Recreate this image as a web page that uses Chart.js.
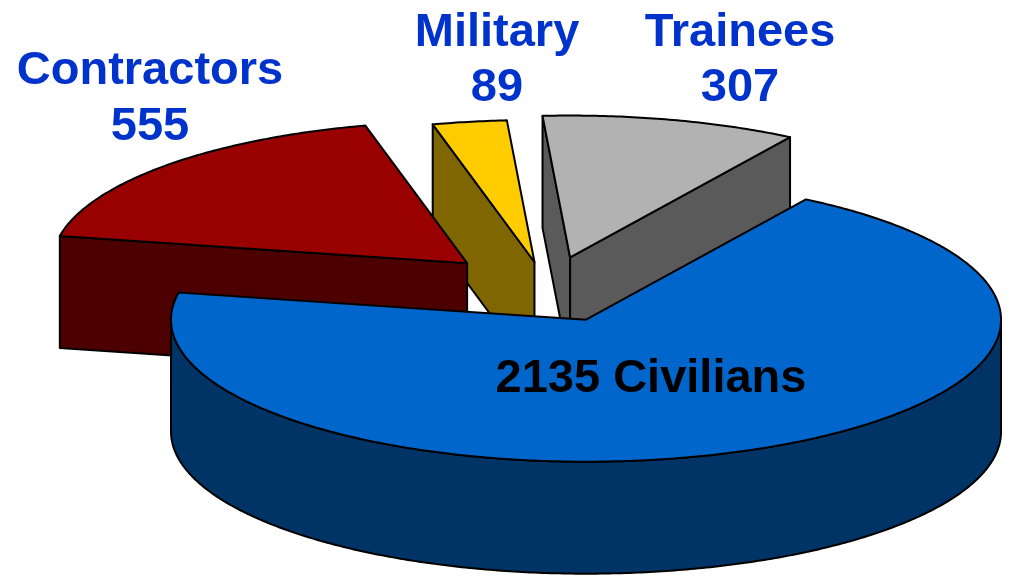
<!DOCTYPE html>
<html>
<head>
<meta charset="utf-8">
<script src="https://cdn.jsdelivr.net/npm/chart.js@4/dist/chart.umd.min.js"></script>
<style>
  html, body { margin: 0; padding: 0; background: #ffffff; }
  #wrap { width: 1009px; height: 580px; position: relative; }
</style>
</head>
<body>
<div id="wrap"><canvas id="c" width="1009" height="580"></canvas></div>
<script>
// ---- data ----
const categories = ['Civilians', 'Contractors', 'Military', 'Trainees'];
const values = [2135, 555, 89, 307];
const topColors = ['#0066CC', '#990000', '#FFCC00', '#B2B2B2'];
const sideColors = ['#003366', '#4C0000', '#7F6600', '#5A5A5A'];

// ---- 3D look (style) ----
const look = {
  tilt: 0.342,                 // vertical squash of the disk
  depth: 112,                  // thickness, px
  explode: [98, 110, 80, 95],  // how far each slice is pulled out, px
  outline: '#000000'
};

function arcGeom(arc, i) {
  const p = arc.getProps(['x', 'y', 'startAngle', 'endAngle', 'outerRadius'], true);
  const half = (p.startAngle + p.endAngle) / 2;
  const t = look.explode[i] || 0;
  return { cx: p.x, cy: p.y, tx: Math.cos(half) * t, ty: Math.sin(half) * t,
           r: p.outerRadius, s: p.startAngle, e: p.endAngle };
}
function P(g, a, dz) {
  return [g.cx + g.tx + g.r * Math.cos(a), g.cy + look.tilt * (g.ty + g.r * Math.sin(a)) + dz];
}
function C0(g, dz) { return [g.cx + g.tx, g.cy + look.tilt * g.ty + dz]; }

function tracePoly(ctx, pts) {
  ctx.beginPath();
  ctx.moveTo(pts[0][0], pts[0][1]);
  for (let i = 1; i < pts.length; i++) ctx.lineTo(pts[i][0], pts[i][1]);
  ctx.closePath();
}
function strokeIt(ctx) {
  ctx.lineWidth = 2;
  ctx.lineJoin = 'round';
  ctx.strokeStyle = look.outline;
  ctx.stroke();
}
function poly(ctx, pts, fill) {
  tracePoly(ctx, pts);
  ctx.fillStyle = fill;
  ctx.fill();
  strokeIt(ctx);
}
function arcPts(g, a1, a2, dz) {
  const n = Math.max(2, Math.ceil(Math.abs(a2 - a1) / 0.01));
  const out = [];
  for (let i = 0; i <= n; i++) out.push(P(g, a1 + (a2 - a1) * i / n, dz));
  return out;
}

const pie3d = {
  id: 'pie3d',
  beforeDatasetsDraw(chart) {
    const ctx = chart.ctx;
    const D = look.depth;
    const arcs = chart.getDatasetMeta(0).data;
    const order = arcs.map((a, i) => ({ i, g: arcGeom(a, i) }))
      .sort((A, B) => A.g.ty - B.g.ty);
    for (const { i, g } of order) {
      const side = sideColors[i];
      // radial wall at start angle (if facing the viewer)
      if (-Math.cos(g.s) > 0) {
        poly(ctx, [C0(g, 0), P(g, g.s, 0), P(g, g.s, D), C0(g, D)], side);
      }
      // radial wall at end angle
      if (Math.cos(g.e) > 0) {
        poly(ctx, [C0(g, 0), P(g, g.e, 0), P(g, g.e, D), C0(g, D)], side);
      }
      // outer curved wall (front half only)
      for (let n = -1; n <= 2; n++) {
        const lo = Math.max(g.s, 2 * Math.PI * n), hi = Math.min(g.e, 2 * Math.PI * n + Math.PI);
        if (hi > lo) poly(ctx, arcPts(g, lo, hi, 0).concat(arcPts(g, hi, lo, D)), side);
      }
      // top face: the library's own arc element, drawn on the tilted disk
      ctx.save();
      ctx.translate(g.cx + g.tx, g.cy + look.tilt * g.ty);
      ctx.scale(1, look.tilt);
      ctx.translate(-g.cx, -g.cy);
      arcs[i].draw(ctx);
      ctx.restore();
      // outline of the top face
      tracePoly(ctx, [C0(g, 0)].concat(arcPts(g, g.s, g.e, 0)));
      strokeIt(ctx);
    }
    return false;
  }
};

// ---- labels ----
const labelFont = 'bold 47px "Liberation Sans", Arial, sans-serif';
const labelSpots = [
  { lines: [values[0] + ' ' + categories[0]], x: 651, y: [392], color: '#000000' },
  { lines: [categories[1], String(values[1])], x: 150, y: [84, 140], color: '#0033CC' },
  { lines: [categories[2], String(values[2])], x: 497, y: [46, 101], color: '#0033CC' },
  { lines: [categories[3], String(values[3])], x: 740, y: [46, 101], color: '#0033CC' }
];
const labelPlugin = {
  id: 'sliceLabels',
  afterDraw(chart) {
    const ctx = chart.ctx;
    ctx.save();
    ctx.font = labelFont;
    ctx.textAlign = 'center';
    ctx.textBaseline = 'alphabetic';
    labelSpots.forEach(s => {
      ctx.fillStyle = s.color;
      s.lines.forEach((t, k) => ctx.fillText(t, s.x, s.y[k]));
    });
    ctx.restore();
  }
};

new Chart(document.getElementById('c'), {
  type: 'pie',
  data: {
    labels: categories,
    datasets: [{
      data: values,
      backgroundColor: topColors,
      borderWidth: 0,
      offset: 0,
      hoverOffset: 0,
      clip: false
    }]
  },
  options: {
    responsive: false,
    devicePixelRatio: 1,
    animation: false,
    events: [],
    rotation: 32,
    radius: 415,
    layout: { padding: { left: 85, right: 0, top: 0, bottom: 2 } },
    plugins: {
      legend: { display: false },
      tooltip: { enabled: false },
      title: { display: false }
    }
  },
  plugins: [pie3d, labelPlugin]
});
</script>
</body>
</html>
